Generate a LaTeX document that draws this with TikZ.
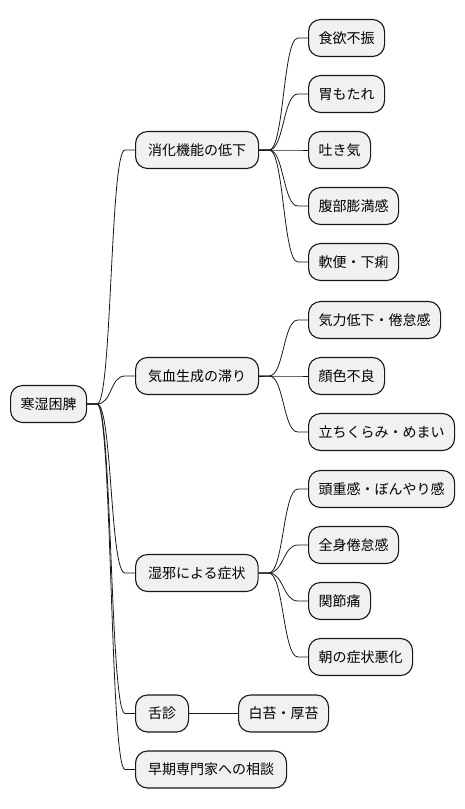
\documentclass[tikz,border=0pt]{standalone}
\usepackage{fontspec}
\newfontfamily\jpfont{Noto Sans CJK JP}
\definecolor{boxfill}{HTML}{F1F1F1}
\definecolor{boxline}{HTML}{181818}
\tikzset{
  mm/.style={draw=boxline, fill=boxfill, line width=1.1pt, rounded corners=12pt,
    anchor=west, minimum height=37pt, inner ysep=0pt, text height=11.3pt, text depth=0.7pt,
    font=\jpfont\fontsize{14}{16}\selectfont, text=black},
  leaf/.style={mm, inner xsep=10pt},
  mid/.style={mm, inner xsep=12.5pt},
  conn/.style={draw=boxline, line width=0.8pt},
}
\newcommand\mmlink[2]{\draw[conn] (#1.east) -- ++(10pt,0) .. controls +(15pt,0) and +(-15pt,0) .. ([xshift=-10pt]#2.west) -- (#2.west);}
\begin{document}
\begin{tikzpicture}[x=1pt,y=-1pt]
\useasboundingbox (0,0) rectangle (465,809);
\node[leaf] (root) at (10,404) {寒湿困脾};
\node[mid] (a) at (135,150) {消化機能の低下};
\node[mid] (b) at (135,376) {気血生成の滞り};
\node[mid] (c) at (135,573) {湿邪による症状};
\node[mid] (d) at (135,713.5) {舌診};
\node[mid] (e) at (135,769.5) {早期専門家への相談};
\node[leaf] (a1) at (308,38) {食欲不振};
\node[leaf] (a2) at (308,94) {胃もたれ};
\node[leaf] (a3) at (308,150) {吐き気};
\node[leaf] (a4) at (308,206) {腹部膨満感};
\node[leaf] (a5) at (308,262) {軟便・下痢};
\node[leaf] (b1) at (308,320) {気力低下・倦怠感};
\node[leaf] (b2) at (308,376) {顔色不良};
\node[leaf] (b3) at (308,432) {立ちくらみ・めまい};
\node[leaf] (c1) at (308,489) {頭重感・ぼんやり感};
\node[leaf] (c2) at (308,545) {全身倦怠感};
\node[leaf] (c3) at (308,601) {関節痛};
\node[leaf] (c4) at (308,657) {朝の症状悪化};
\node[leaf] (d1) at (238,713.5) {白苔・厚苔};
\mmlink{root}{a}
\mmlink{root}{b}
\mmlink{root}{c}
\mmlink{root}{d}
\mmlink{root}{e}
\mmlink{a}{a1}
\mmlink{a}{a2}
\mmlink{a}{a3}
\mmlink{a}{a4}
\mmlink{a}{a5}
\mmlink{b}{b1}
\mmlink{b}{b2}
\mmlink{b}{b3}
\mmlink{c}{c1}
\mmlink{c}{c2}
\mmlink{c}{c3}
\mmlink{c}{c4}
\draw[conn] (d.east) -- (d1.west);
\end{tikzpicture}
\end{document}
